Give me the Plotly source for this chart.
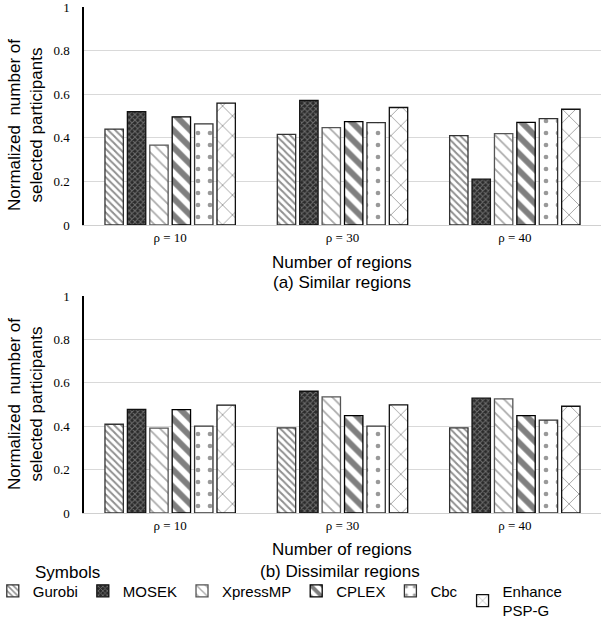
import plotly.graph_objects as go

# ---------------- data ----------------
categories = ["ρ = 10", "ρ = 30", "ρ = 40"]
solvers = ["Gurobi", "MOSEK", "XpressMP", "CPLEX", "Cbc", "Enhance<br>PSP-G"]

# (a) Similar regions
gurobi_similar = [0.44, 0.416, 0.41]
mosek_similar = [0.52, 0.571, 0.21]
xpress_similar = [0.366, 0.447, 0.419]
cplex_similar = [0.496, 0.474, 0.471]
cbc_similar = [0.464, 0.47, 0.488]
pspg_similar = [0.559, 0.539, 0.531]

# (b) Dissimilar regions
gurobi_dissimilar = [0.409, 0.392, 0.392]
mosek_dissimilar = [0.477, 0.561, 0.529]
xpress_dissimilar = [0.391, 0.535, 0.526]
cplex_dissimilar = [0.476, 0.449, 0.449]
cbc_dissimilar = [0.40, 0.40, 0.428]
pspg_dissimilar = [0.497, 0.498, 0.492]

y_ticks = [0, 0.2, 0.4, 0.6, 0.8, 1]
y_tick_labels = ["0", "0.2", "0.4", "0.6", "0.8", "1"]

similar = [gurobi_similar, mosek_similar, xpress_similar, cplex_similar, cbc_similar, pspg_similar]
dissimilar = [gurobi_dissimilar, mosek_dissimilar, xpress_dissimilar, cplex_dissimilar, cbc_dissimilar, pspg_dissimilar]

# ---------------- styles ----------------
patterns = [
    dict(shape="\\", size=5, solidity=0.4, fgcolor="#222222", bgcolor="white"),
    dict(shape="x", size=4, solidity=0.45, fgcolor="#b0b0b0", bgcolor="#2a2a2a"),
    dict(shape="\\", size=8, solidity=0.22, fgcolor="#555555", bgcolor="white"),
    dict(shape="\\", size=12, solidity=0.5, fgcolor="#000000", bgcolor="white"),
    dict(shape=".", size=12, solidity=0.12, fgcolor="#333333", bgcolor="white"),
    dict(shape="x", size=14, solidity=0.12, fgcolor="#333333", bgcolor="white"),
]
outline = ["#333333", "#111111", "#555555", "#000000", "#333333", "#111111"]

fig = go.Figure()
for i, name in enumerate(solvers):
    fig.add_trace(go.Bar(
        x=categories, y=similar[i], name=name, legendgroup=name,
        marker=dict(color="white", pattern=patterns[i], line=dict(color=outline[i], width=1.3)),
        xaxis="x", yaxis="y", showlegend=True,
    ))
for i, name in enumerate(solvers):
    fig.add_trace(go.Bar(
        x=categories, y=dissimilar[i], name=name, legendgroup=name,
        marker=dict(color="white", pattern=patterns[i], line=dict(color=outline[i], width=1.3)),
        xaxis="x2", yaxis="y2", showlegend=False,
    ))

H = 621.0
W = 601.0
xdom = [84 / W, 1.0]
top_dom = [1 - 225 / H, 1 - 7 / H]
bot_dom = [1 - 513 / H, 1 - 296 / H]

tick_font = dict(family="Liberation Serif, Times New Roman, serif", size=13, color="black")
yaxis_common = dict(
    range=[0, 1], tickvals=y_ticks, ticktext=y_tick_labels, showgrid=True,
    gridcolor="#d9d9d9", gridwidth=1, showline=True, linecolor="black", linewidth=1.5,
    ticks="", ticklabelstandoff=10, tickfont=tick_font, zeroline=False, fixedrange=True,
    automargin=False, ticklabeloverflow="allow",
)
xaxis_common = dict(
    showline=True, linecolor="#d0d0d0", linewidth=1, ticks="", tickfont=tick_font,
    showgrid=False, fixedrange=True, automargin=False,
)

fig.update_layout(
    width=601, height=621,
    margin=dict(l=0, r=0, t=0, b=0, autoexpand=False),
    paper_bgcolor="white", plot_bgcolor="white",
    barmode="group", bargap=0.22, bargroupgap=0.18,
    font=dict(family="Liberation Sans, Arial, sans-serif", size=17, color="black"),
    xaxis=dict(domain=xdom, anchor="y", **xaxis_common),
    yaxis=dict(domain=top_dom, anchor="x", **yaxis_common),
    xaxis2=dict(domain=xdom, anchor="y2", **xaxis_common),
    yaxis2=dict(domain=bot_dom, anchor="x2", **yaxis_common),
    legend=dict(
        orientation="h", x=-0.012, y=-0.009, xanchor="left", yanchor="bottom",
        font=dict(family="Liberation Sans, Arial, sans-serif", size=15),
        bgcolor="rgba(0,0,0,0)", traceorder="normal", itemwidth=30,
        tracegroupgap=0, borderwidth=0,
    ),
)

ytitle = "Normalized  number of<br>selected participants"
annos = [
    dict(text=ytitle, x=25 / W, y=1 - 125 / H, textangle=-90),
    dict(text=ytitle, x=25 / W, y=1 - 404 / H, textangle=-90),
    dict(text="Number of regions", x=342 / W, y=1 - 262 / H),
    dict(text="(a) Similar regions", x=342 / W, y=1 - 282 / H),
    dict(text="Number of regions", x=342 / W, y=1 - 549 / H),
    dict(text="(b) Dissimilar regions", x=340 / W, y=1 - 571 / H),
    dict(text="Symbols", x=67 / W, y=1 - 572 / H),
]
for a in annos:
    fig.add_annotation(xref="paper", yref="paper", showarrow=False,
                       xanchor="center", yanchor="middle",
                       font=dict(family="Liberation Sans, Arial, sans-serif", size=17, color="black"),
                       **a)

fig.write_html("out.html")
